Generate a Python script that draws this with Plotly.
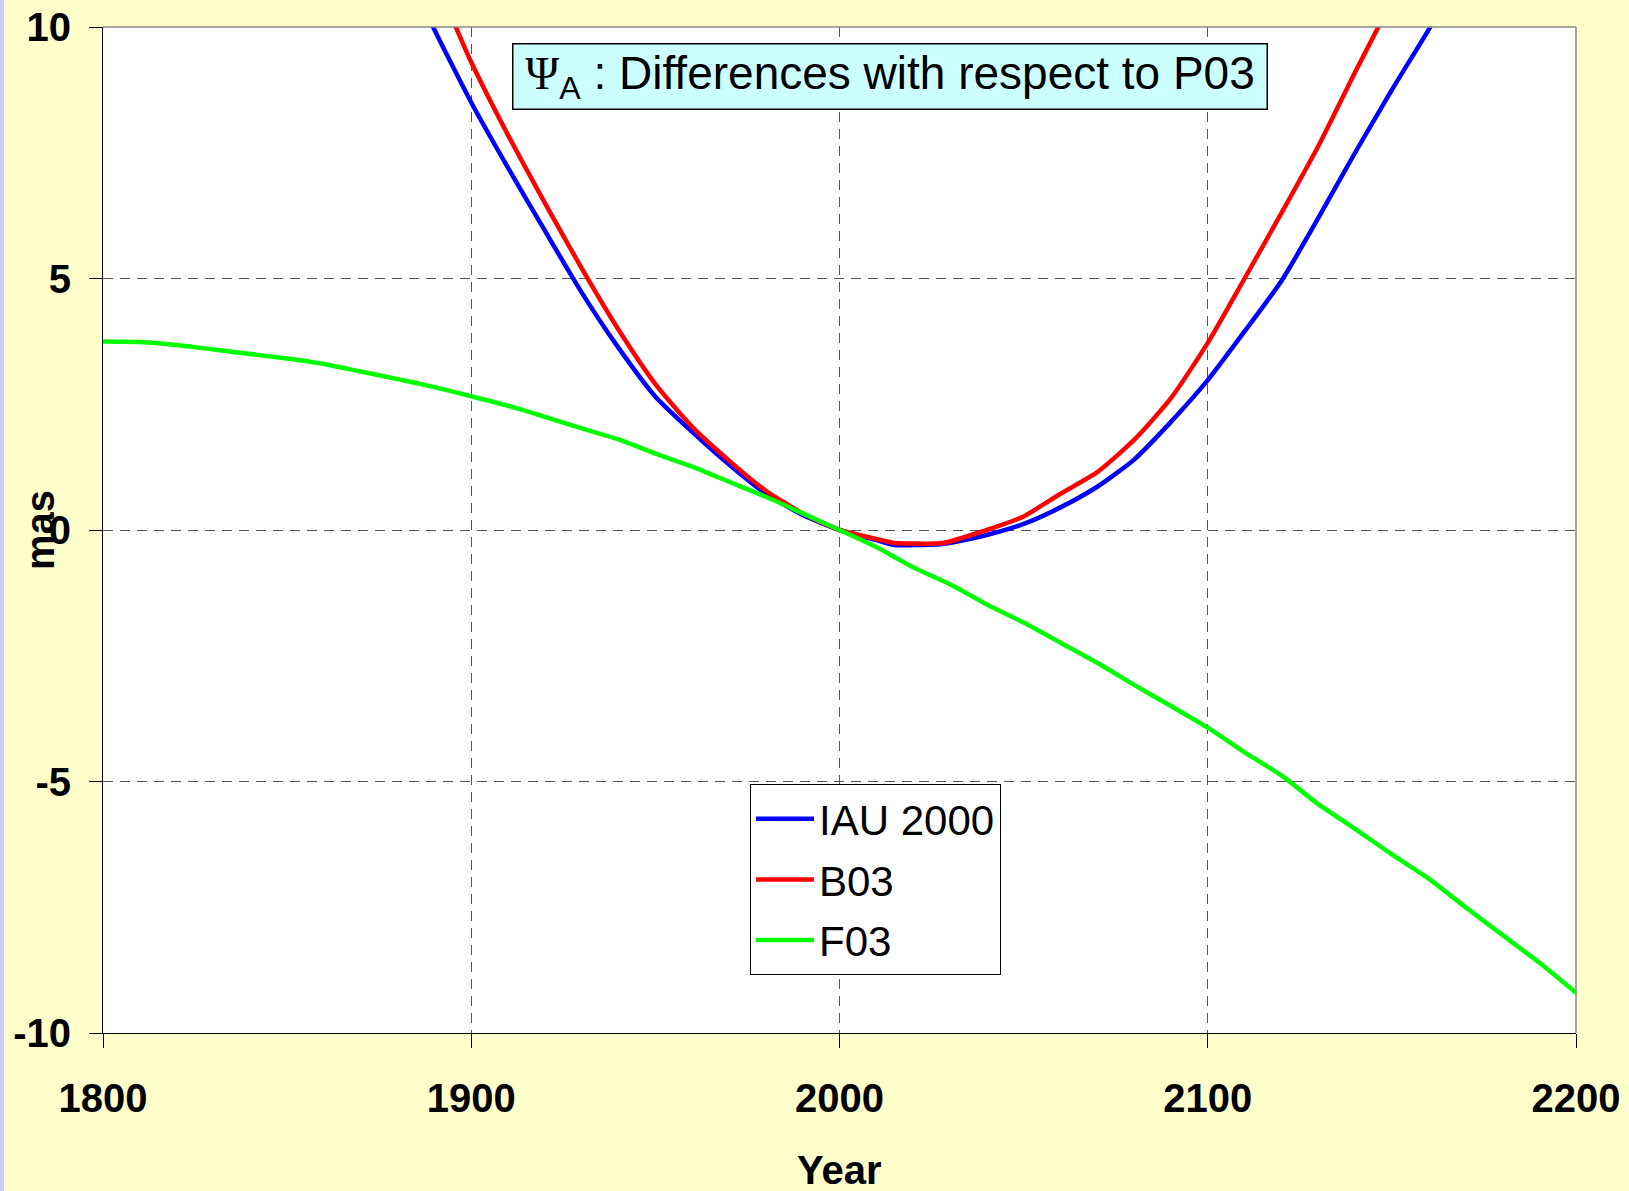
import plotly.graph_objects as go

# ---- data ----
iau_year = [1885, 1889, 1900, 1910, 1920, 1930, 1940, 1950, 1960, 1970, 1980, 1990, 2000,
            2010, 2015, 2020, 2028, 2040, 2050, 2060, 2070, 2080, 2090, 2100, 2110, 2120,
            2130, 2140, 2150, 2160, 2165]
iau_val = [10.8, 10.1, 8.5, 7.2, 5.95, 4.72, 3.62, 2.65, 1.95, 1.3, 0.72, 0.3, 0.0,
           -0.2, -0.3, -0.3, -0.28, -0.1, 0.12, 0.45, 0.86, 1.4, 2.15, 2.98, 3.95, 4.95,
           6.2, 7.5, 8.75, 9.95, 10.6]

b03_year = [1890, 1895, 1900, 1910, 1920, 1930, 1940, 1950, 1960, 1970, 1980, 1990, 2000,
            2010, 2015, 2020, 2028, 2040, 2050, 2060, 2070, 2080, 2090, 2100, 2110, 2120,
            2130, 2140, 2147, 2150]
b03_val = [10.9, 10.13, 9.3, 7.85, 6.5, 5.2, 3.98, 2.9, 2.05, 1.38, 0.78, 0.33, 0.0,
           -0.18, -0.26, -0.27, -0.26, 0.0, 0.27, 0.72, 1.15, 1.79, 2.62, 3.72, 5.0, 6.3,
           7.63, 9.1, 10.1, 10.6]

f03_year = [1800, 1810, 1820, 1830, 1840, 1850, 1860, 1870, 1880, 1890, 1900, 1910, 1920,
            1930, 1940, 1950, 1960, 1970, 1980, 1990, 2000, 2010, 2020, 2030, 2040, 2050,
            2060, 2070, 2080, 2090, 2100, 2110, 2120, 2130, 2140, 2150, 2160, 2170, 2180,
            2190, 2200]
f03_val = [3.75, 3.74, 3.68, 3.59, 3.5, 3.41, 3.3, 3.15, 3.0, 2.84, 2.66, 2.47, 2.25,
           2.02, 1.8, 1.52, 1.26, 0.96, 0.66, 0.33, 0.0, -0.34, -0.74, -1.08, -1.48, -1.84,
           -2.24, -2.64, -3.08, -3.5, -3.93, -4.42, -4.88, -5.45, -5.94, -6.45, -6.93, -7.5,
           -8.05, -8.6, -9.2]

series_names = ["IAU 2000", "B03", "F03"]
series_colors = ["#0000FF", "#FF0000", "#00FF00"]

x_ticks = [1800, 1900, 2000, 2100, 2200]
y_ticks = [-10, -5, 0, 5, 10]

# ---- figure ----
fig = go.Figure()
for name, xs, ys, col in zip(series_names,
                             [iau_year, b03_year, f03_year],
                             [iau_val, b03_val, f03_val],
                             series_colors):
    fig.add_trace(go.Scatter(x=xs, y=ys, mode="lines", name=name, legendgroup=name,
                             line=dict(color=col, width=4.5, shape="spline", smoothing=0.6)))

W, H = 1629, 1191
L, R, T, B = 103, 53, 27, 158
pw, ph = W - L - R, H - T - B

def px(xp):
    return (xp - L) / pw

def py(yp):
    return 1 - (yp - T) / ph

FONT = "Liberation Sans, Arial, sans-serif"
tick_font = dict(family=FONT, size=40, color="black", weight="bold")

fig.update_layout(
    width=W, height=H,
    margin=dict(l=L, r=R, t=T, b=B, pad=0, autoexpand=False),
    paper_bgcolor="#FFFFCC",
    plot_bgcolor="white",
    showlegend=True,
    legend=dict(
        x=px(750), y=py(784), xanchor="left", yanchor="top",
        bgcolor="white", bordercolor="black", borderwidth=1,
        font=dict(family=FONT, size=42, color="black"),
        tracegroupgap=3, itemwidth=58,
    ),
    xaxis=dict(
        range=[1800, 2200], tickvals=x_ticks, ticktext=[str(v) for v in x_ticks],
        showline=True, linecolor="black", linewidth=1, automargin=False,
        ticks="outside", ticklen=14, tickcolor="black", tickwidth=1,
        showgrid=True, gridcolor="#555555", gridwidth=1, griddash="10px,7px",
        zeroline=False, tickfont=tick_font, ticklabelstandoff=16,
    ),
    yaxis=dict(
        range=[-10, 10], tickvals=y_ticks, ticktext=[str(v) for v in y_ticks],
        showline=True, linecolor="black", linewidth=1, automargin=False,
        ticks="outside", ticklen=13, tickcolor="black", tickwidth=1,
        showgrid=True, gridcolor="#555555", gridwidth=1, griddash="10px,7px",
        zeroline=False, tickfont=tick_font, ticklabelstandoff=10,
    ),
    shapes=[
        dict(type="rect", xref="paper", yref="paper", x0=px(0), x1=px(4), y0=py(H), y1=py(0),
             fillcolor="#CCCCFF", line=dict(width=0), layer="below"),
        dict(type="line", xref="paper", yref="paper", x0=0, x1=1, y0=1, y1=1,
             line=dict(color="#888888", width=1.5)),
        dict(type="line", xref="paper", yref="paper", x0=1, x1=1, y0=0, y1=1,
             line=dict(color="#888888", width=1.5)),
    ],
    annotations=[
        dict(text="<span style='font-family:Liberation Serif, Times New Roman, serif'>Ψ</span><sub>A</sub> : Differences with respect to P03",
             xref="paper", yref="paper", x=px(890), y=py(77), xanchor="center", yanchor="middle",
             showarrow=False, bgcolor="#CCFFFF", bordercolor="black", borderwidth=1.5,
             borderpad=4, width=745, height=56,
             font=dict(family=FONT, size=46, color="black")),
        dict(text="mas", xref="paper", yref="paper", x=px(40), y=0.5,
             xanchor="center", yanchor="middle", textangle=-90, showarrow=False,
             font=dict(family=FONT, size=40, color="black", weight="bold")),
        dict(text="Year", xref="paper", yref="paper", x=0.5, y=py(1170),
             xanchor="center", yanchor="middle", showarrow=False,
             font=dict(family=FONT, size=40, color="black", weight="bold")),
    ],
)

fig.write_html("out.html", config={"displayModeBar": False},
               post_script="document.body.style.margin='0';document.body.style.overflow='hidden';document.body.style.background='#FFFFCC';")
